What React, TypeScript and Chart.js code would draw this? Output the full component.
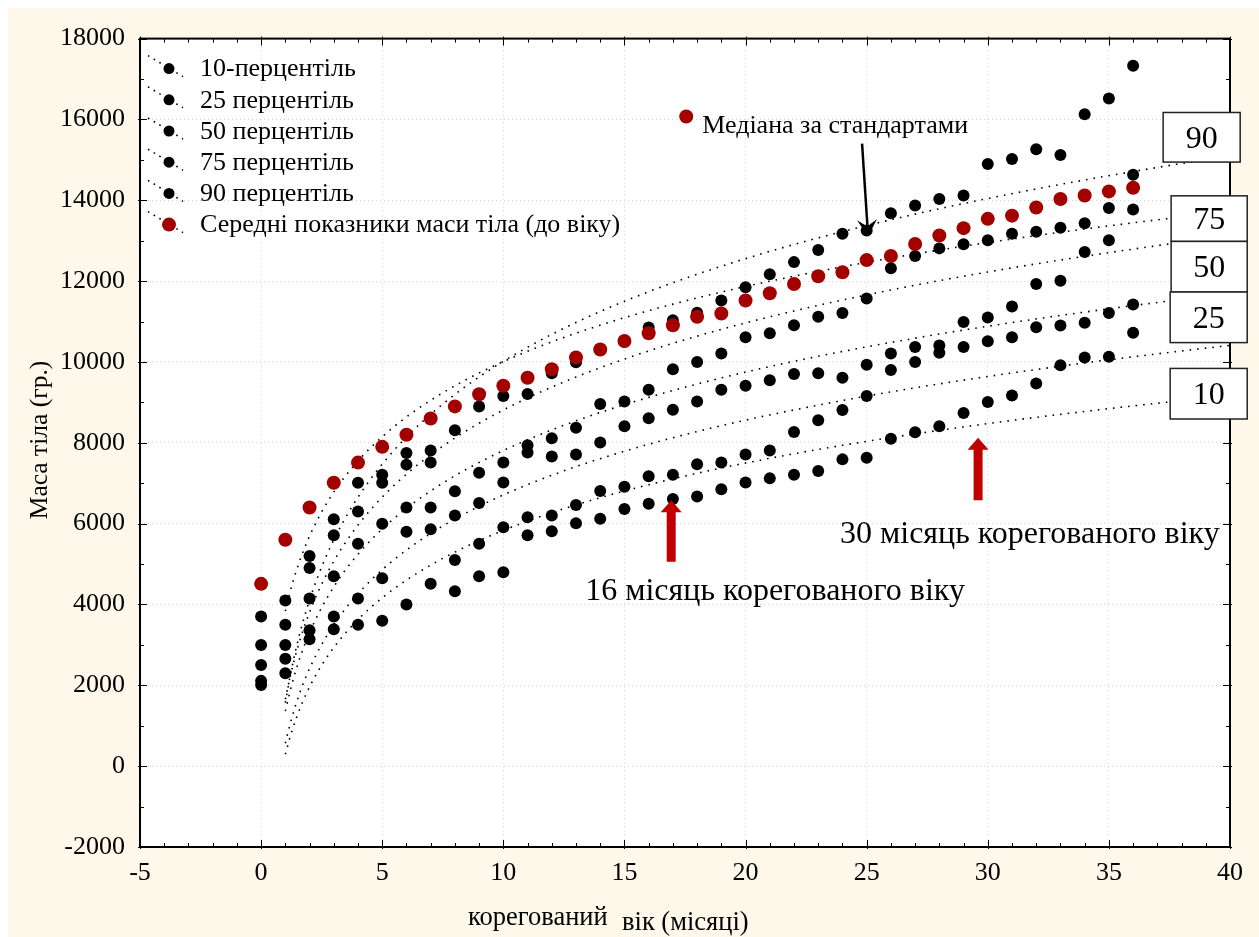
import React, { useEffect, useRef } from "react";
import { Chart, registerables } from "chart.js";

Chart.register(...registerables);

// ---------- data ----------
const months = [
  0, 1, 2, 3, 4, 5, 6, 7, 8, 9, 10, 11, 12, 13, 14, 15, 16, 17, 18, 19, 20,
  21, 22, 23, 24, 25, 26, 27, 28, 29, 30, 31, 32, 33, 34, 35, 36,
];

const p10 = [
  2010, 2300, 3140, 3390, 3500, 3600, 4000, 4510, 4330, 4700, 4800, 5710, 5810,
  6010, 6120, 6360, 6490, 6610, 6670, 6850, 7020, 7120, 7210, 7300, 7590, 7630,
  8100, 8260, 8410, 8740, 9010, 9170, 9470, 9920, 10110, 10130, 10720,
];
const p25 = [
  2110, 2660, 3360, 3700, 4150, 4650, 5800, 5860, 5100, 5500, 5910, 6160, 6200,
  6460, 6810, 6910, 7170, 7210, 7470, 7510, 7710, 7810, 8270, 8560, 8810, 9160,
  9800, 10000, 10230, 10370, 10510, 10610, 10860, 10900, 10970, 11210, 11420,
];
const p50 = [
  2500, 3000, 4150, 4700, 5500, 6000, 6400, 6400, 6200, 6510, 7020, 7760, 7660,
  7710, 8010, 8410, 8610, 8820, 9020, 9310, 9410, 9550, 9700, 9720, 9610, 9930,
  10210, 10370, 10410, 10990, 11100, 11370, 11930, 12010, 12720, 13010, 13770,
];
const p75 = [
  3000, 3500, 4900, 5710, 6300, 7010, 7460, 7510, 6800, 7260, 7510, 7940, 8110,
  8370, 8960, 9020, 9310, 9820, 10000, 10210, 10610, 10710, 10910, 11120, 11210,
  11570, 12320, 12620, 12810, 12910, 13010, 13170, 13220, 13320, 13430, 13810,
  14630,
];
const p90 = [
  3700, 4100, 5200, 6110, 7010, 7210, 7750, 7810, 8310, 8900, 9160, 9210, 9720,
  9990, 10300, 10500, 10850, 11030, 11220, 11520, 11850, 12170, 12470, 12770,
  13170, 13250, 13680, 13870, 14030, 14120, 14900, 15020, 15260, 15120, 16130,
  16520, 17330,
];
const meanMass = [
  4510, 5600, 6400, 7010, 7510, 7900, 8200, 8600, 8900, 9200, 9410, 9610, 9820,
  10110, 10310, 10520, 10710, 10910, 11120, 11200, 11520, 11700, 11930, 12120,
  12220, 12520, 12620, 12920, 13130, 13310, 13540, 13620, 13820, 14030, 14120,
  14220, 14310,
];

const xTicks = [-5, 0, 5, 10, 15, 20, 25, 30, 35, 40];
const yTicks = [
  -2000, 0, 2000, 4000, 6000, 8000, 10000, 12000, 14000, 16000, 18000,
];

const legendLabels = [
  "10-перцентіль",
  "25 перцентіль",
  "50 перцентіль",
  "75 перцентіль",
  "90 перцентіль",
  "Середні показники маси тіла (до віку)",
];
const boxLabels = ["90", "75", "50", "25", "10"];

const xTitleA = "корегований";
const xTitleB = "вік (місяці)";
const yTitle = "Маса тіла (гр.)";
const medianNote = "Медіана за стандартами";
const note16 = "16 місяць корегованого віку";
const note30 = "30 місяць корегованого віку";

// ---------- styles ----------
const SERIF = '"Liberation Serif", "Times New Roman", serif';
const CREAM = "#FDF8EA";
const DOT_RED = "#A30000";
const ARROW_RED = "#C00000";

// logarithmic least-squares trend (as the original package fits), x > 0
function logFit(xs: number[], ys: number[]) {
  let n = 0, sx = 0, sy = 0, sxx = 0, sxy = 0;
  xs.forEach((x, i) => {
    if (x <= 0) return;
    const l = Math.log(x);
    n++; sx += l; sy += ys[i]; sxx += l * l; sxy += l * ys[i];
  });
  const b = (n * sxy - sx * sy) / (n * sxx - sx * sx);
  const a = (sy - b * sx) / n;
  return { a, b };
}
function trend(ys: number[]) {
  const { a, b } = logFit(months, ys);
  const pts: { x: number; y: number }[] = [];
  for (let i = 0; i <= 195; i++) {
    const x = 1 + i * 0.2;
    pts.push({ x, y: a + b * Math.log(x) });
  }
  return pts;
}
const toPts = (ys: number[]) => months.map((m, i) => ({ x: m, y: ys[i] }));

const decor = {
  id: "decor",
  beforeDraw(chart: any) {
    const { ctx, width, height, chartArea: ca } = chart;
    ctx.save();
    ctx.fillStyle = CREAM;
    ctx.fillRect(0, 0, width, height);
    ctx.fillStyle = "#ffffff";
    ctx.fillRect(ca.left, ca.top, ca.right - ca.left, ca.bottom - ca.top);
    ctx.restore();
  },
  afterDraw(chart: any) {
    const { ctx, chartArea: ca, scales } = chart;
    const X = (v: number) => scales.x.getPixelForValue(v);
    const Y = (v: number) => scales.y.getPixelForValue(v);
    const line = (x1: number, y1: number, x2: number, y2: number) => {
      ctx.beginPath();
      ctx.moveTo(x1, y1);
      ctx.lineTo(x2, y2);
      ctx.stroke();
    };
    ctx.save();

    // frame ticks
    ctx.strokeStyle = "#000";
    ctx.lineWidth = 1;
    for (let v = -5; v <= 40; v++) {
      const major = v % 5 === 0;
      const x = Math.round(X(v)) + 0.5;
      line(x, ca.bottom + (major ? 2 : 0), x, ca.bottom - (major ? 7 : 4));
      line(x, ca.top - (major ? 2 : 0), x, ca.top + (major ? 7 : 4));
    }
    for (let v = -2000; v <= 18000; v += 1000) {
      const major = v % 2000 === 0;
      const y = Math.round(Y(v)) + 0.5;
      line(ca.left - (major ? 2 : 0), y, ca.left + (major ? 7 : 4), y);
      line(ca.right + (major ? 2 : 0), y, ca.right - (major ? 7 : 4), y);
    }
    // frame
    ctx.lineWidth = 2;
    ctx.strokeRect(ca.left, ca.top, ca.right - ca.left, ca.bottom - ca.top);

    // legend
    ctx.textBaseline = "middle";
    ctx.textAlign = "left";
    ctx.font = `26px ${SERIF}`;
    legendLabels.forEach((lab, i) => {
      const cy = ca.top + 30 + i * 31.2;
      const cx = ca.left + 29;
      ctx.save();
      ctx.setLineDash([1.6, 5]);
      ctx.lineWidth = 1.6;
      ctx.strokeStyle = "#000";
      line(ca.left + 8, cy - 13, ca.left + 43, cy + 8);
      ctx.restore();
      ctx.fillStyle = i === 5 ? DOT_RED : "#000";
      ctx.beginPath();
      ctx.arc(cx, cy, i === 5 ? 7 : 5.5, 0, Math.PI * 2);
      ctx.fill();
      ctx.fillStyle = "#000";
      ctx.fillText(lab, ca.left + 60, cy + 1);
    });

    // "median by standards" note
    ctx.fillStyle = DOT_RED;
    ctx.beginPath();
    ctx.arc(X(17.55), Y(16074), 7, 0, Math.PI * 2);
    ctx.fill();
    ctx.fillStyle = "#000";
    ctx.font = `26px ${SERIF}`;
    ctx.fillText(medianNote, X(18.21), Y(15828));

    // black arrow
    {
      const x1 = X(24.81), y1 = Y(15400), x2 = X(25.06), y2 = Y(13104);
      const ang = Math.atan2(y2 - y1, x2 - x1);
      const ux = Math.cos(ang), uy = Math.sin(ang);
      const backX = x2 - ux * 17, backY = y2 - uy * 17;
      ctx.strokeStyle = "#000";
      ctx.lineWidth = 2.5;
      line(x1, y1, x2 - ux * 8, y2 - uy * 8);
      ctx.fillStyle = "#000";
      ctx.beginPath();
      ctx.moveTo(x2, y2);
      ctx.lineTo(backX - uy * 10, backY + ux * 10);
      ctx.lineTo(x2 - ux * 10, y2 - uy * 10);
      ctx.lineTo(backX + uy * 10, backY - ux * 10);
      ctx.closePath();
      ctx.fill();
    }

    // red up-arrows
    const redArrow = (xv: number, tipV: number, baseV: number) => {
      const px = X(xv), tip = Y(tipV), base = Y(baseV);
      ctx.fillStyle = ARROW_RED;
      ctx.beginPath();
      ctx.moveTo(px, tip);
      ctx.lineTo(px + 10.5, tip + 12);
      ctx.lineTo(px + 4.5, tip + 12);
      ctx.lineTo(px + 4.5, base);
      ctx.lineTo(px - 4.5, base);
      ctx.lineTo(px - 4.5, tip + 12);
      ctx.lineTo(px - 10.5, tip + 12);
      ctx.closePath();
      ctx.fill();
    };
    redArrow(16.93, 6577, 5055);
    redArrow(29.6, 8123, 6577);

    ctx.fillStyle = "#000";
    ctx.font = `32px ${SERIF}`;
    ctx.fillText(note16, X(13.38), Y(4319));
    ctx.fillText(note30, X(23.9), Y(5718));

    // percentile boxes
    const boxes = [
      [37.24, 40.42, 16172, 14945],
      [37.57, 40.71, 14110, 12982],
      [37.57, 40.71, 12982, 11730],
      [37.53, 40.71, 11730, 10479],
      [37.53, 40.71, 9840, 8589],
    ];
    ctx.font = `32px ${SERIF}`;
    ctx.textAlign = "center";
    boxes.forEach((b, i) => {
      const l = X(b[0]), r = X(b[1]), t = Y(b[2]), btm = Y(b[3]);
      ctx.fillStyle = "#fff";
      ctx.fillRect(l, t, r - l, btm - t);
      ctx.strokeStyle = "#222";
      ctx.lineWidth = 1.5;
      ctx.strokeRect(l, t, r - l, btm - t);
      ctx.fillStyle = "#000";
      ctx.fillText(boxLabels[i], (l + r) / 2, (t + btm) / 2 + 2);
    });

    // axis titles
    ctx.fillStyle = "#000";
    ctx.textAlign = "left";
    ctx.textBaseline = "alphabetic";
    ctx.font = `26.5px ${SERIF}`;
    ctx.fillText(xTitleA, 460, 917);
    ctx.fillText(xTitleB, 614, 922);

    ctx.save();
    ctx.translate(32, 432);
    ctx.rotate(-Math.PI / 2);
    ctx.textAlign = "center";
    ctx.textBaseline = "middle";
    ctx.font = `25.5px ${SERIF}`;
    ctx.fillText(yTitle, 0, 0);
    ctx.restore();

    ctx.restore();
  },
};

export default function App() {
  const ref = useRef<HTMLCanvasElement | null>(null);

  useEffect(() => {
    document.body.style.margin = "8px 0 0 8px";
    const canvas = ref.current;
    if (!canvas) return;

    const trendStyle = {
      type: "line" as const,
      showLine: true,
      pointRadius: 0,
      borderColor: "#000",
      borderWidth: 1.6,
      borderDash: [1.6, 6],
      fill: false,
      tension: 0,
      order: 3,
    };
    const dotStyle = (color: string, r: number, order: number) => ({
      type: "scatter" as const,
      pointRadius: r,
      pointHoverRadius: r,
      backgroundColor: color,
      borderWidth: 0,
      showLine: false,
      order,
    });

    const series = [p10, p25, p50, p75, p90];
    const datasets: any[] = [];
    series.forEach((s, i) => {
      datasets.push({ label: legendLabels[i] + " trend", data: trend(s), ...trendStyle });
    });
    datasets.push({ label: legendLabels[5] + " trend", data: trend(meanMass), ...trendStyle });
    series.forEach((s, i) => {
      datasets.push({ label: legendLabels[i], data: toPts(s), ...dotStyle("#000", 6, 2) });
    });
    datasets.push({ label: legendLabels[5], data: toPts(meanMass), ...dotStyle(DOT_RED, 7, 1) });

    const tickFont = { family: SERIF, size: 26 };

    const chart = new Chart(canvas, {
      type: "scatter",
      data: { datasets },
      options: {
        animation: false,
        responsive: false,
        devicePixelRatio: 1,
        layout: { padding: { top: 24, right: 29, left: 0, bottom: 0 } },
        plugins: {
          legend: { display: false },
          tooltip: { enabled: false },
        },
        scales: {
          x: {
            type: "linear",
            min: -5,
            max: 40,
            afterFit: (s: any) => {
              s.height = 90;
            },
            afterBuildTicks: (s: any) => {
              s.ticks = xTicks.map((v) => ({ value: v }));
            },
            ticks: {
              color: "#000",
              font: tickFont,
              padding: 11,
              maxRotation: 0,
              autoSkip: false,
              callback: (v: any) => String(v),
            },
            grid: { color: "#d4d4d4", lineWidth: 1, drawTicks: false },
            border: { display: false, dash: [1, 3] },
          },
          y: {
            type: "linear",
            min: -2000,
            max: 18000,
            afterFit: (s: any) => {
              s.width = 132;
            },
            afterBuildTicks: (s: any) => {
              s.ticks = yTicks.map((v) => ({ value: v }));
            },
            ticks: {
              color: "#000",
              font: tickFont,
              padding: 15,
              autoSkip: false,
              callback: (v: any) => String(v),
            },
            grid: { color: "#d4d4d4", lineWidth: 1, drawTicks: false },
            border: { display: false, dash: [1, 3] },
          },
        },
      },
      plugins: [decor],
    });

    return () => chart.destroy();
  }, []);

  return (
    <div style={{ width: 1251, height: 929 }}>
      <canvas ref={ref} width={1251} height={929} style={{ display: "block" }} />
    </div>
  );
}
